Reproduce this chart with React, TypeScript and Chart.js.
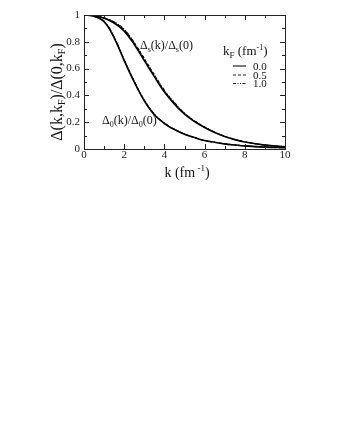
import React, { useEffect, useRef } from "react";
import { Chart, registerables } from "chart.js";
Chart.register(...registerables);

const kValues = [0, 0.5, 1, 1.5, 2, 2.5, 3, 3.5, 4, 4.5, 5, 5.5, 6, 6.5, 7, 7.5, 8, 9, 10];
// Δ0(k)/Δ0(0)
const delta0_kF00 = [1.0, 0.99, 0.95, 0.83, 0.66, 0.5, 0.36, 0.255, 0.19, 0.145, 0.11, 0.085, 0.063, 0.05, 0.038, 0.03, 0.023, 0.014, 0.009];
const delta0_kF05 = [1.0, 0.991, 0.952, 0.833, 0.663, 0.503, 0.363, 0.258, 0.192, 0.146, 0.111, 0.085, 0.063, 0.05, 0.038, 0.03, 0.023, 0.014, 0.009];
const delta0_kF10 = [1.0, 0.992, 0.954, 0.836, 0.667, 0.507, 0.366, 0.261, 0.194, 0.147, 0.112, 0.086, 0.064, 0.051, 0.039, 0.031, 0.024, 0.015, 0.009];
// Δs(k)/Δs(0)
const deltaS_kF00 = [1.0, 0.995, 0.975, 0.94, 0.88, 0.78, 0.66, 0.54, 0.425, 0.335, 0.26, 0.205, 0.16, 0.123, 0.093, 0.07, 0.052, 0.029, 0.017];
const deltaS_kF05 = [1.0, 0.996, 0.978, 0.946, 0.889, 0.791, 0.672, 0.551, 0.435, 0.343, 0.266, 0.209, 0.163, 0.125, 0.094, 0.071, 0.053, 0.03, 0.017];
const deltaS_kF10 = [1.0, 0.997, 0.98, 0.949, 0.893, 0.795, 0.676, 0.555, 0.438, 0.346, 0.268, 0.21, 0.164, 0.126, 0.095, 0.072, 0.053, 0.03, 0.018];

const xTickLabels = ["0", "2", "4", "6", "8", "10"];
const yTickLabels = ["0", "0.2", "0.4", "0.6", "0.8", "1"];
const legendLabels = ["0.0", "0.5", "1.0"];

const SERIF = "'Liberation Serif', 'DejaVu Serif', serif";
const DASH_05 = [3, 2];
const DASH_10 = [3, 1.5, 1, 1.5, 1, 1.5];

type Part = { t: string; dy?: number; size?: number };

function drawParts(ctx: CanvasRenderingContext2D, parts: Part[], x: number, y: number, base: number, align: "left" | "center") {
  let total = 0;
  for (const p of parts) {
    ctx.font = `${p.size ?? base}px ${SERIF}`;
    total += ctx.measureText(p.t).width;
  }
  let cx = align === "center" ? x - total / 2 : x;
  ctx.textAlign = "left";
  ctx.textBaseline = "alphabetic";
  for (const p of parts) {
    ctx.font = `${p.size ?? base}px ${SERIF}`;
    ctx.fillText(p.t, cx, y + (p.dy ?? 0));
    cx += ctx.measureText(p.t).width;
  }
}

const decorPlugin = {
  id: "decor",
  afterDraw(chart: any) {
    const ctx: CanvasRenderingContext2D = chart.ctx;
    const { left, right, top, bottom } = chart.chartArea;
    const xs = chart.scales.x;
    const ys = chart.scales.y;
    ctx.save();
    ctx.strokeStyle = "#222";
    ctx.lineWidth = 1;
    ctx.strokeRect(Math.round(left) + 0.5, Math.round(top) + 0.5, Math.round(right - left), Math.round(bottom - top));
    ctx.beginPath();
    for (let k = 0; k <= 10; k++) {
      const px = Math.round(xs.getPixelForValue(k)) + 0.5;
      const len = k % 2 === 0 ? 5 : 3;
      ctx.moveTo(px, bottom);
      ctx.lineTo(px, bottom - len);
      ctx.moveTo(px, top);
      ctx.lineTo(px, top + len);
    }
    for (let i = 0; i <= 10; i++) {
      const py = Math.round(ys.getPixelForValue(i / 10)) + 0.5;
      const len = i % 2 === 0 ? 5 : 3;
      ctx.moveTo(left, py);
      ctx.lineTo(left + len, py);
      ctx.moveTo(right, py);
      ctx.lineTo(right - len, py);
    }
    ctx.stroke();

    ctx.fillStyle = "#111";
    // x title
    drawParts(ctx, [{ t: "k (fm" }, { t: " -1", dy: -6, size: 9 }, { t: ")" }], 187, 177, 14, "center");
    // y title
    ctx.save();
    ctx.translate(62, 92);
    ctx.rotate(-Math.PI / 2);
    drawParts(
      ctx,
      [{ t: "Δ(k,k" }, { t: "F", dy: 3, size: 10 }, { t: ")/Δ(0,k" }, { t: "F", dy: 3, size: 10 }, { t: ")" }],
      0,
      0,
      16,
      "center"
    );
    ctx.restore();

    // annotations
    drawParts(ctx, [{ t: "Δ" }, { t: "s", dy: 3, size: 8 }, { t: "(k)/Δ" }, { t: "s", dy: 3, size: 8 }, { t: "(0)" }], 140, 49, 12, "left");
    drawParts(ctx, [{ t: "Δ" }, { t: "0", dy: 3, size: 8 }, { t: "(k)/Δ" }, { t: "0", dy: 3, size: 8 }, { t: "(0)" }], 102, 124, 12, "left");

    // legend
    drawParts(ctx, [{ t: "k" }, { t: "F", dy: 3, size: 9 }, { t: " (fm" }, { t: "-1", dy: -5, size: 8 }, { t: ")" }], 223, 55, 13, "left");
    const dashes = [[], DASH_05, DASH_10];
    const ys2 = [66, 75, 83.5];
    for (let i = 0; i < 3; i++) {
      const ly = ys2[i];
      ctx.beginPath();
      ctx.setLineDash(dashes[i]);
      ctx.lineWidth = 1.2;
      ctx.moveTo(233, ly);
      ctx.lineTo(246, ly);
      ctx.stroke();
      ctx.setLineDash([]);
      ctx.font = `11px ${SERIF}`;
      ctx.textAlign = "left";
      ctx.textBaseline = "middle";
      ctx.fillText(legendLabels[i], 253, ly + 1);
    }
    ctx.restore();
  },
};

export default function App() {
  const ref = useRef<HTMLCanvasElement | null>(null);
  useEffect(() => {
    if (!ref.current) return;
    const mk = (vals: number[], dash: number[], w: number) => ({
      data: kValues.map((k, i) => ({ x: k, y: vals[i] })),
      borderColor: "#000",
      borderWidth: w,
      borderDash: dash,
      pointRadius: 0,
      fill: false,
      tension: 0.4,
    });
    const chart = new Chart(ref.current, {
      type: "line",
      data: {
        datasets: [
          mk(delta0_kF00, [], 1.6),
          mk(delta0_kF05, DASH_05, 1.1),
          mk(delta0_kF10, DASH_10, 1.1),
          mk(deltaS_kF00, [], 1.6),
          mk(deltaS_kF05, DASH_05, 1.1),
          mk(deltaS_kF10, DASH_10, 1.1),
        ],
      },
      options: {
        animation: false,
        responsive: false,
        devicePixelRatio: 1,
        layout: { padding: { left: 0, top: 15, right: 52, bottom: 257 } },
        plugins: { legend: { display: false }, tooltip: { enabled: false } },
        scales: {
          x: {
            type: "linear",
            min: 0,
            max: 10,
            afterFit: (s: any) => {
              s.height = 30;
            },
            afterBuildTicks: (s: any) => {
              s.ticks = xTickLabels.map((t) => ({ value: Number(t) }));
            },
            ticks: {
              color: "#222",
              font: { family: SERIF, size: 11 },
              padding: 0,
              maxRotation: 0,
              callback: (v: any) => String(v),
            },
            grid: { display: false, drawTicks: false },
            border: { display: false },
          },
          y: {
            type: "linear",
            min: 0,
            max: 1,
            afterFit: (s: any) => {
              s.width = 84;
            },
            afterBuildTicks: (s: any) => {
              s.ticks = yTickLabels.map((t) => ({ value: Number(t) }));
            },
            ticks: {
              color: "#222",
              font: { family: SERIF, size: 11 },
              padding: 4,
              callback: (v: any) => yTickLabels[Math.round(Number(v) * 5)],
            },
            grid: { display: false, drawTicks: false },
            border: { display: false },
          },
        },
      },
      plugins: [decorPlugin],
    });
    return () => chart.destroy();
  }, []);
  return (
    <div style={{ position: "fixed", left: 0, top: 0, width: 337, height: 436, background: "#fff" }}>
      <canvas ref={ref} width={337} height={436} style={{ width: 337, height: 436, display: "block" }} />
    </div>
  );
}
